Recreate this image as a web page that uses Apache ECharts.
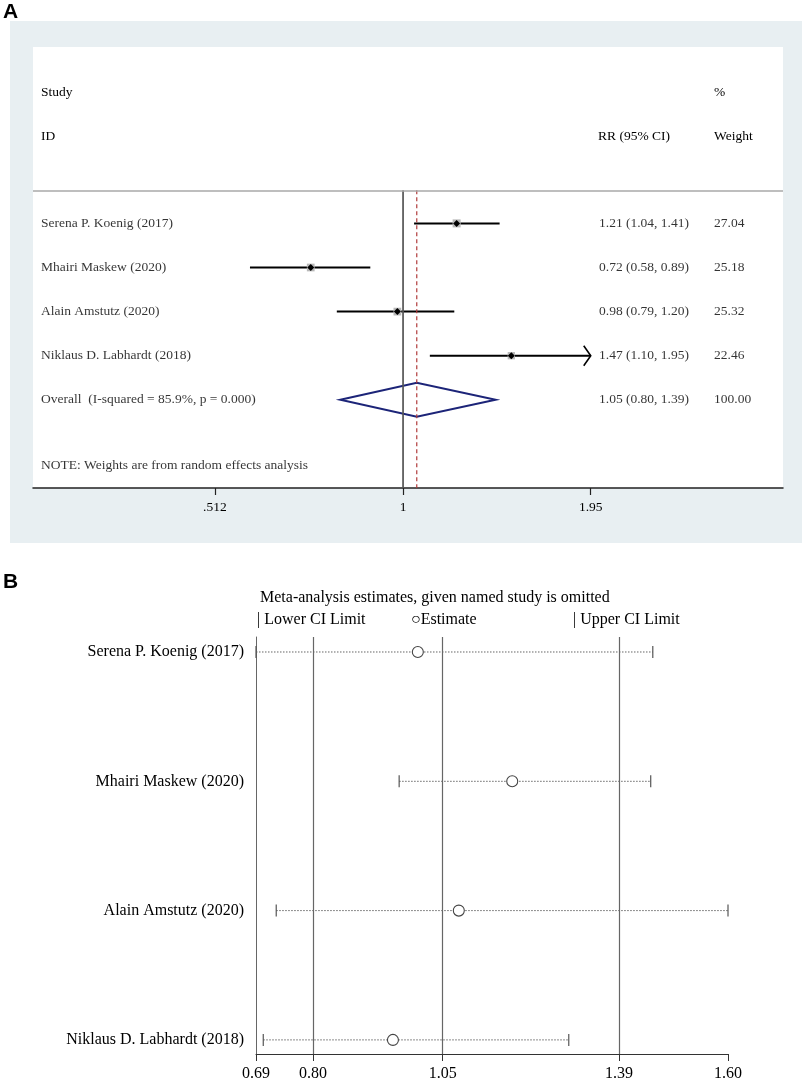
<!DOCTYPE html>
<html>
<head>
<meta charset="utf-8">
<script src="https://cdn.jsdelivr.net/npm/echarts@6/dist/echarts.min.js"></script>
<style>
html, body { margin: 0; padding: 0; background: #fff; }
#chart { width: 803px; height: 1082px; }
</style>
</head>
<body>
<div id="chart"></div>
<script>
// Panel A: forest plot (RR, log scale)
const studies = ['Serena P. Koenig (2017)', 'Mhairi Maskew (2020)', 'Alain Amstutz (2020)', 'Niklaus D. Labhardt (2018)'];
const rr = [1.21, 0.72, 0.98, 1.47];
const rrLow = [1.04, 0.58, 0.79, 1.10];
const rrHigh = [1.41, 0.89, 1.20, 1.95];
const weights = [27.04, 25.18, 25.32, 22.46];
const overall = [1.05, 0.80, 1.39];  // estimate, lower, upper
const overallLabel = 'Overall  (I-squared = 85.9%, p = 0.000)';
const overallWeight = 100.00;
const noteText = 'NOTE: Weights are from random effects analysis';
const forestTicks = [0.512, 1, 1.95];
const forestTickLabels = ['.512', '1', '1.95'];

// Panel B: estimates with the named study omitted
const omitEst = [1.002, 1.184, 1.081, 0.954];
const omitLow = [0.69, 0.966, 0.729, 0.704];
const omitHigh = [1.455, 1.451, 1.60, 1.293];
const sensTicks = [0.69, 0.80, 1.05, 1.39, 1.60];

const serif = "'Liberation Serif', 'Times New Roman', serif";
const ln = Math.log;
const fmt2 = v => v.toFixed(2);
const ciText = (e, l, h) => fmt2(e) + ' (' + fmt2(l) + ', ' + fmt2(h) + ')';

// text rows of the table in panel A  [x in grid px, row, text]
const nameCol = studies.map((s, i) => [8, i, s]).concat([[8, 4, overallLabel], [8, 5.5, noteText]]);
const ciCol = rr.map((v, i) => [566, i, ciText(v, rrLow[i], rrHigh[i])]).concat([[566, 4, ciText(overall[0], overall[1], overall[2])]]);
const wCol = weights.map((w, i) => [681, i, fmt2(w)]).concat([[681, 4, fmt2(overallWeight)]]);

const textSeries = (data) => ({
    type: 'scatter',
    xAxisIndex: 1,
    yAxisIndex: 0,
    symbolSize: 0,
    silent: true,
    data: data,
    label: {
        show: true,
        position: 'right',
        distance: 0,
        formatter: p => p.value[2],
        fontFamily: serif,
        fontSize: 13.5,
        color: '#000'
    }
});

const chart = echarts.init(document.getElementById('chart'));

const option = {
    animation: false,
    backgroundColor: '#fff',
    graphic: [
        { type: 'rect', shape: { x: 10, y: 21, width: 792, height: 522 }, style: { fill: '#e8eff2' }, z: -10 },
        { type: 'text', left: 3, top: 2, style: { text: 'A', font: "bold 21px 'Liberation Sans Narrow', 'Liberation Sans', sans-serif", fill: '#000' } },
        { type: 'text', left: 3, top: 572, style: { text: 'B', font: "bold 21px 'Liberation Sans Narrow', 'Liberation Sans', sans-serif", fill: '#000' } },
        { type: 'text', left: 41, top: 85, style: { text: 'Study', font: '13.5px ' + serif, fill: '#000' } },
        { type: 'text', left: 41, top: 129, style: { text: 'ID', font: '13.5px ' + serif, fill: '#000' } },
        { type: 'text', left: 598, top: 129, style: { text: 'RR (95% CI)', font: '13.5px ' + serif, fill: '#000' } },
        { type: 'text', left: 714, top: 85, style: { text: '%', font: '13.5px ' + serif, fill: '#000' } },
        { type: 'text', left: 714, top: 129, style: { text: 'Weight', font: '13.5px ' + serif, fill: '#000' } },
        { type: 'text', left: 260, top: 590, style: { text: 'Meta-analysis estimates, given named study is omitted', font: '16px ' + serif, fill: '#000' } },
        { type: 'text', left: 257, top: 612, style: { text: '| Lower CI Limit', font: '16px ' + serif, fill: '#000' } },
        { type: 'text', left: 411, top: 612, style: { text: '\u25CBEstimate', font: '16px ' + serif, fill: '#000' } },
        { type: 'text', left: 573, top: 612, style: { text: '| Upper CI Limit', font: '16px ' + serif, fill: '#000' } }
    ],
    grid: [
        { left: 33, top: 47, width: 750, height: 441, show: true, backgroundColor: '#fff', borderWidth: 0 },
        { left: 256, top: 637, width: 472, height: 417 }
    ],
    xAxis: [
        {
            gridIndex: 0, type: 'value',
            min: ln(0.268), max: ln(3.865),
            splitLine: { show: false },
            axisLine: { show: true, onZero: false, lineStyle: { color: '#222', width: 1.5 } },
            axisTick: { show: true, customValues: forestTicks.map(ln), length: 7, lineStyle: { color: '#222', width: 1.2 } },
            axisLabel: {
                customValues: forestTicks.map(ln),
                formatter: v => {
                    let k = 0;
                    forestTicks.forEach((t, i) => { if (Math.abs(ln(t) - v) < Math.abs(ln(forestTicks[k]) - v)) k = i; });
                    return forestTickLabels[k];
                },
                fontFamily: serif, fontSize: 13.5, color: '#000', margin: 12
            }
        },
        { gridIndex: 0, type: 'value', min: 0, max: 750, show: false },
        {
            gridIndex: 1, type: 'value',
            min: sensTicks[0], max: sensTicks[sensTicks.length - 1],
            splitLine: { show: false },
            axisLine: { show: true, onZero: false, lineStyle: { color: '#333', width: 1 } },
            axisTick: { show: true, customValues: sensTicks, length: 7, lineStyle: { color: '#333' } },
            axisLabel: { customValues: sensTicks, formatter: v => fmt2(v), fontFamily: serif, fontSize: 16, color: '#000', margin: 12 }
        }
    ],
    yAxis: [
        { gridIndex: 0, type: 'value', min: -4, max: 6, inverse: true, show: false },
        {
            gridIndex: 1, type: 'value', min: -0.116, max: 3.109, inverse: true,
            splitLine: { show: false },
            axisLine: { show: true, onZero: false, lineStyle: { color: '#666', width: 1 } },
            axisTick: { show: false },
            axisLabel: {
                customValues: [0, 1, 2, 3],
                formatter: v => studies[Math.round(v)],
                fontFamily: serif, fontSize: 16, color: '#000', margin: 12
            }
        }
    ],
    series: [
        // line of no effect, with the header separator
        {
            type: 'line', xAxisIndex: 0, yAxisIndex: 0, symbol: 'none', silent: true,
            data: [[0, -0.75], [0, 6]],
            lineStyle: { color: '#555', width: 1.7 },
            markLine: {
                silent: true, symbol: 'none', label: { show: false },
                lineStyle: { color: '#a8a8a8', width: 1.5, type: 'solid' },
                data: [{ yAxis: -0.75 }]
            }
        },
        // overall effect (dashed red)
        {
            type: 'line', xAxisIndex: 0, yAxisIndex: 0, symbol: 'none', silent: true,
            data: [[ln(overall[0]), -0.75], [ln(overall[0]), 6]],
            lineStyle: { color: '#b03a3a', width: 1.2, type: [4, 3] }
        },
        // study CI lines and point estimates
        {
            type: 'custom', xAxisIndex: 0, yAxisIndex: 0, silent: true,
            data: rr.map((v, i) => [i, ln(v), ln(rrLow[i]), ln(rrHigh[i]), weights[i]]),
            encode: { x: [1, 2, 3], y: 0 },
            renderItem: (params, api) => {
                const p = api.coord([api.value(1), api.value(0)]);
                const lo = api.coord([api.value(2), api.value(0)]);
                const hi = api.coord([api.value(3), api.value(0)]);
                const box = 8 * Math.sqrt(api.value(4) / 27.04);
                const kids = [
                    { type: 'line', shape: { x1: lo[0], y1: lo[1], x2: hi[0], y2: hi[1] }, style: { stroke: '#000', lineWidth: 2 } },
                    { type: 'rect', shape: { x: p[0] - box / 2, y: p[1] - box / 2, width: box, height: box }, style: { fill: '#b8b8b8' } },
                    { type: 'polygon', shape: { points: [[p[0] - 3.5, p[1]], [p[0], p[1] - 3.5], [p[0] + 3.5, p[1]], [p[0], p[1] + 3.5]] }, style: { fill: '#000' } }
                ];
                if (Math.exp(api.value(3)) >= forestTicks[forestTicks.length - 1]) {
                    kids.push({ type: 'polyline', shape: { points: [[hi[0] - 7, hi[1] - 10], [hi[0], hi[1]], [hi[0] - 7, hi[1] + 10]] }, style: { stroke: '#000', lineWidth: 1.6, fill: null } });
                }
                return { type: 'group', children: kids };
            }
        },
        // pooled diamond
        {
            type: 'custom', xAxisIndex: 0, yAxisIndex: 0, silent: true,
            data: [[4, ln(overall[0]), ln(overall[1]), ln(overall[2])]],
            encode: { x: [1, 2, 3], y: 0 },
            renderItem: (params, api) => {
                const p = api.coord([api.value(1), api.value(0)]);
                const lo = api.coord([api.value(2), api.value(0)]);
                const hi = api.coord([api.value(3), api.value(0)]);
                return {
                    type: 'polygon',
                    shape: { points: [[lo[0], p[1]], [p[0], p[1] - 17], [hi[0], p[1]], [p[0], p[1] + 17]] },
                    style: { fill: null, stroke: '#1c2478', lineWidth: 2 }
                };
            }
        },
        textSeries(nameCol),
        textSeries(ciCol),
        textSeries(wCol),
        // panel B: overall estimate and CI lines
        {
            type: 'line', xAxisIndex: 2, yAxisIndex: 1, data: [], silent: true,
            markLine: {
                silent: true, symbol: 'none', label: { show: false },
                lineStyle: { color: '#666', width: 1.2, type: 'solid' },
                data: overall.map(v => ({ xAxis: v }))
            }
        },
        // panel B: omitted-study estimates
        {
            type: 'custom', xAxisIndex: 2, yAxisIndex: 1, silent: true,
            data: omitEst.map((v, i) => [i, v, omitLow[i], omitHigh[i]]),
            encode: { x: [1, 2, 3], y: 0 },
            renderItem: (params, api) => {
                const p = api.coord([api.value(1), api.value(0)]);
                const lo = api.coord([api.value(2), api.value(0)]);
                const hi = api.coord([api.value(3), api.value(0)]);
                return {
                    type: 'group',
                    children: [
                        { type: 'line', shape: { x1: lo[0], y1: lo[1], x2: hi[0], y2: hi[1] }, style: { stroke: '#666', lineWidth: 1, lineDash: [1.5, 1.5] } },
                        { type: 'line', shape: { x1: lo[0], y1: lo[1] - 6, x2: lo[0], y2: lo[1] + 6 }, style: { stroke: '#555', lineWidth: 1.2 } },
                        { type: 'line', shape: { x1: hi[0], y1: hi[1] - 6, x2: hi[0], y2: hi[1] + 6 }, style: { stroke: '#555', lineWidth: 1.2 } },
                        { type: 'circle', shape: { cx: p[0], cy: p[1], r: 5.5 }, style: { fill: '#fff', stroke: '#444', lineWidth: 1.1 } }
                    ]
                };
            }
        }
    ]
};

chart.setOption(option);
</script>
</body>
</html>
